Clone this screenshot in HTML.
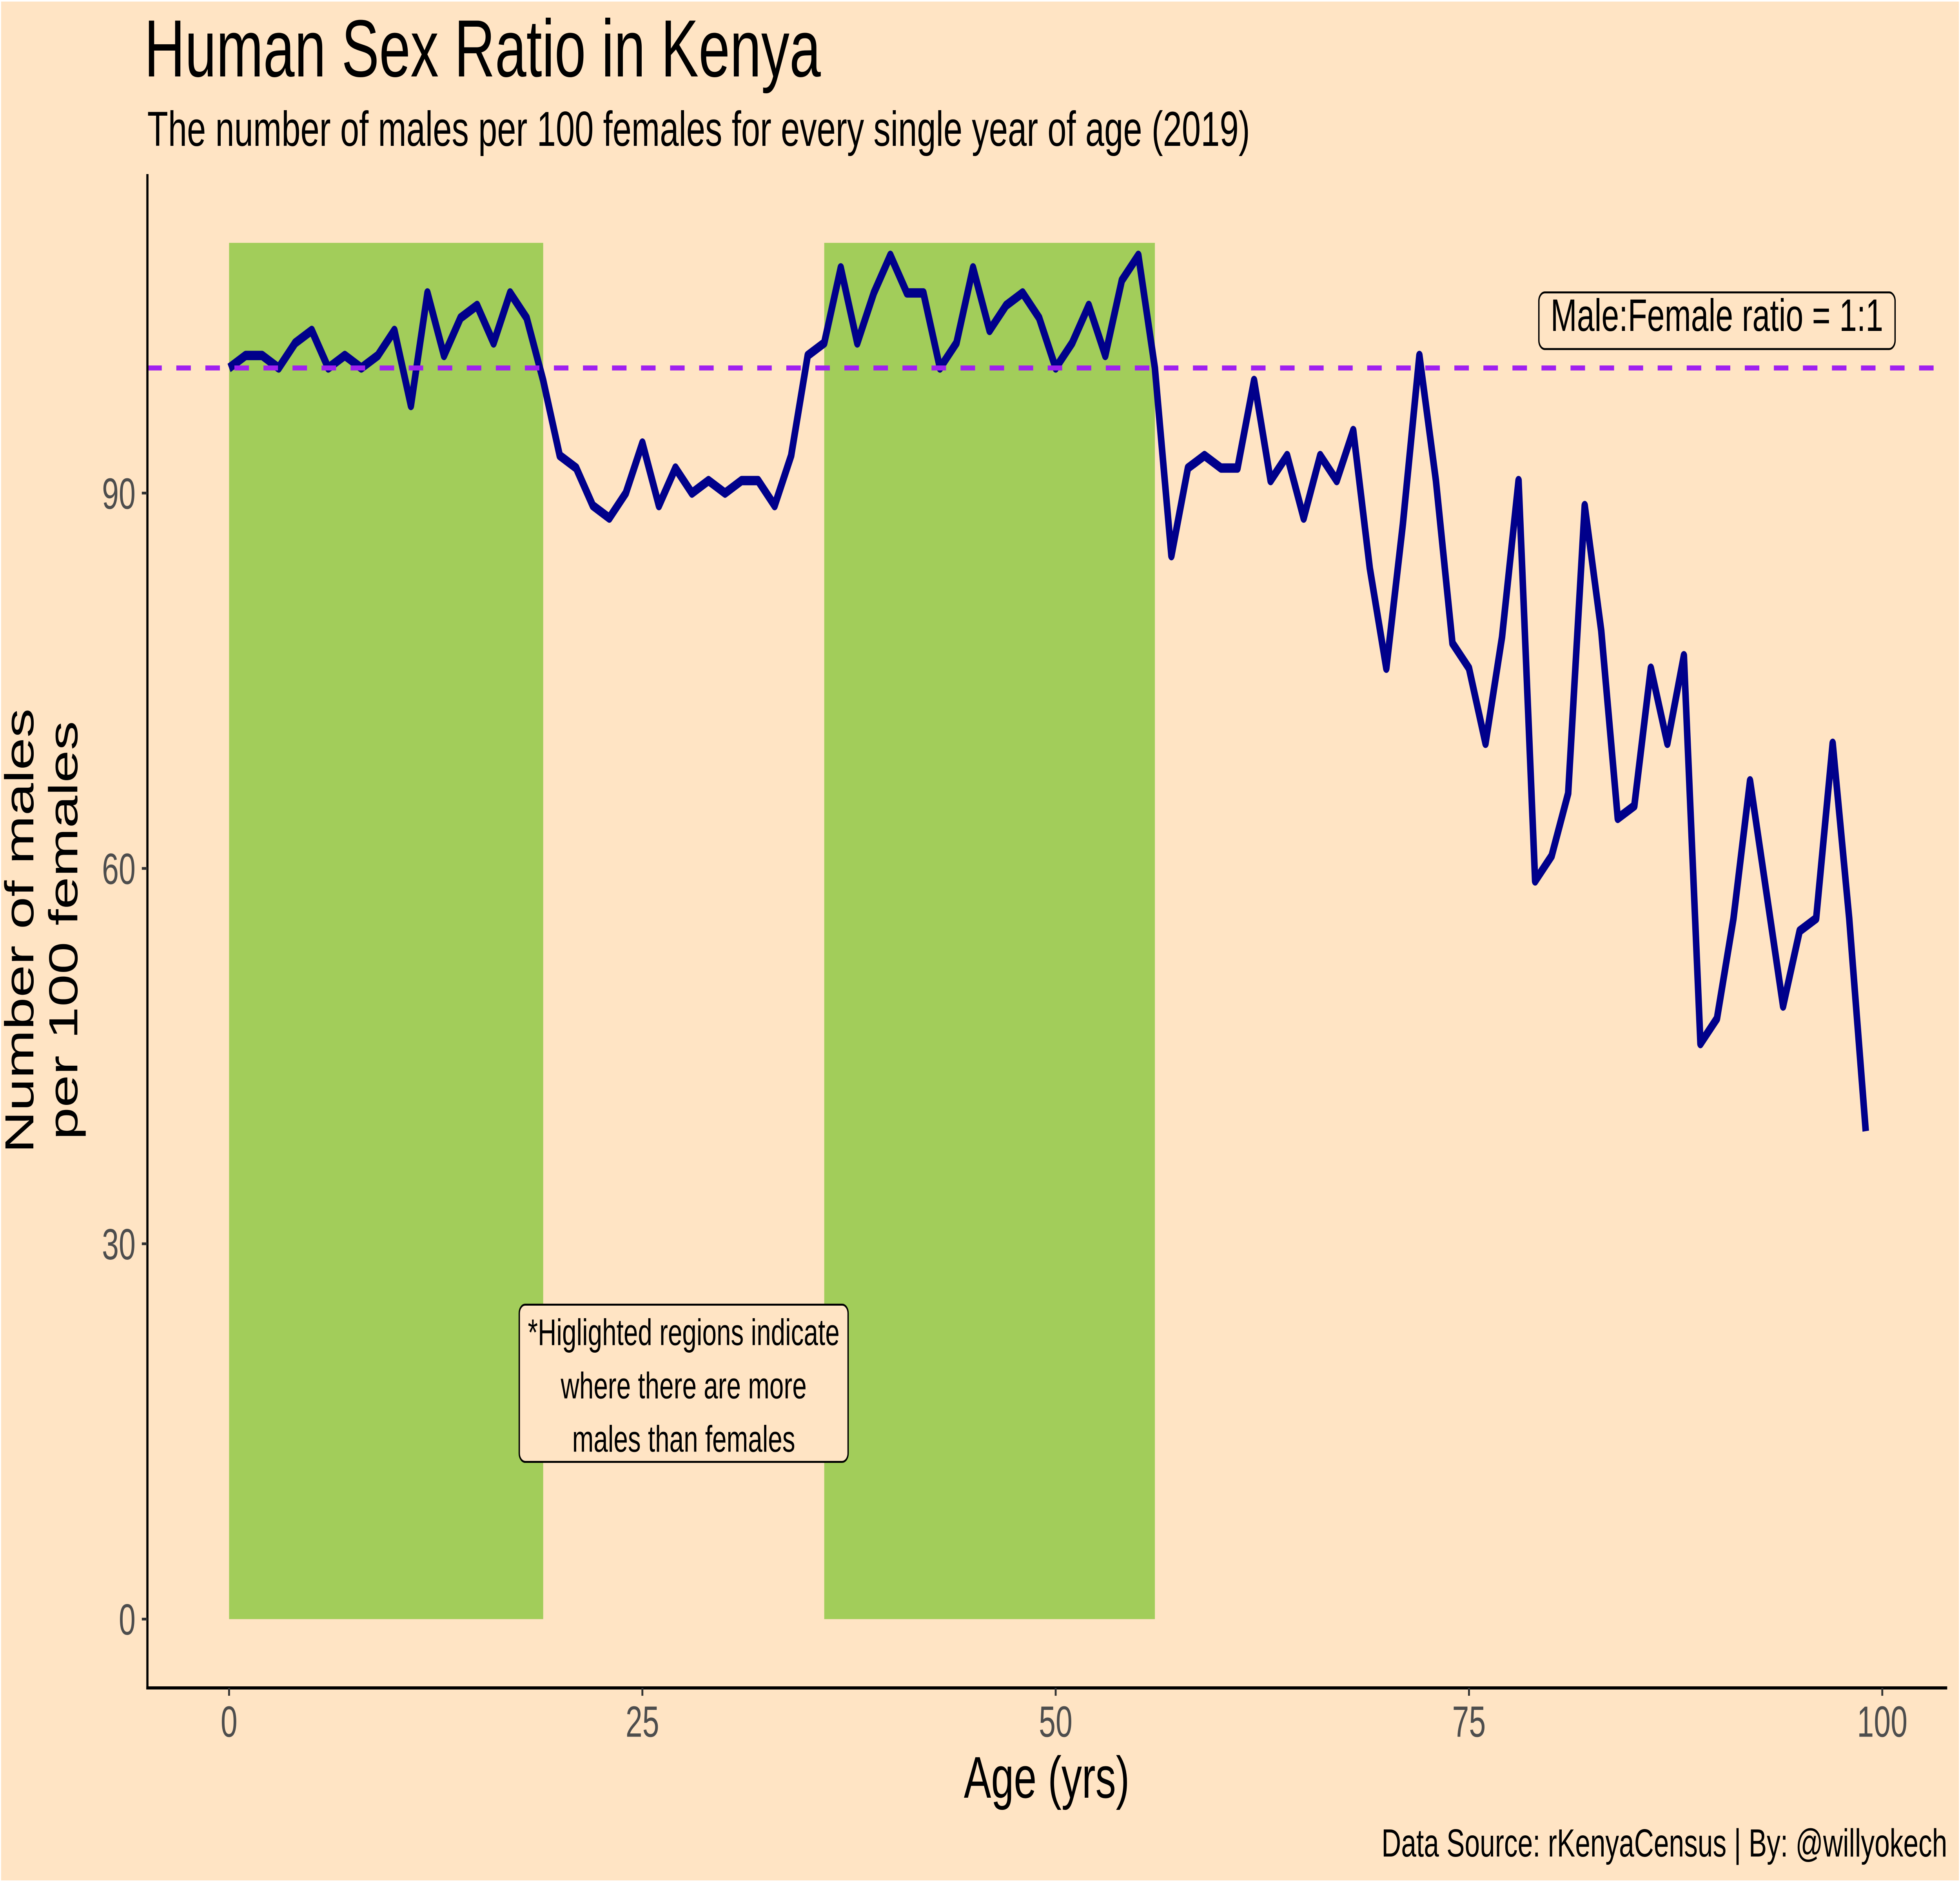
<!DOCTYPE html>
<html>
<head>
<meta charset="utf-8">
<style>
  html, body { margin: 0; padding: 0; background: #FFE4C4; width: 100%; height: 100%; overflow: hidden; }
  svg { display: block; position: absolute; left: 0; top: 0; width: 100vw; height: 100vh; }
  text { font-family: "Liberation Sans", Arial, sans-serif; }
</style>
</head>
<body>
<svg xmlns="http://www.w3.org/2000/svg" viewBox="0 0 7200 4800" preserveAspectRatio="none">
  <!-- background with thin white border -->
  <rect x="0" y="0" width="7200" height="4800" fill="#FFE4C4" stroke="#FFFFFF" stroke-width="8"/>

  <!-- highlighted regions -->
  <rect x="841.5" y="619.4" width="1153.9" height="3510.1" fill="#A2CD5A"/>
  <rect x="3027.8" y="619.4" width="1214.6" height="3510.1" fill="#A2CD5A"/>

  <!-- data line -->
  <polyline fill="none" stroke="#00008B" stroke-width="24" stroke-linejoin="round" stroke-linecap="butt"
    points="841.5,938.5 902.2,906.6 963.0,906.6 1023.7,938.5 1084.4,874.7 1145.2,842.8 1205.9,938.5 1266.6,906.6 1327.3,938.5 1388.1,906.6 1448.8,842.8 1509.5,1034.2 1570.3,747.1 1631.0,906.6 1691.7,810.9 1752.5,779.0 1813.2,874.7 1873.9,747.1 1934.6,810.9 1995.4,970.4 2056.1,1161.9 2116.8,1193.8 2177.6,1289.5 2238.3,1321.4 2299.0,1257.6 2359.8,1130.0 2420.5,1289.5 2481.2,1193.8 2541.9,1257.6 2602.7,1225.7 2663.4,1257.6 2724.1,1225.7 2784.9,1225.7 2845.6,1289.5 2906.3,1161.9 2967.1,906.6 3027.8,874.7 3088.5,683.2 3149.2,874.7 3210.0,747.1 3270.7,651.3 3331.4,747.1 3392.2,747.1 3452.9,938.5 3513.6,874.7 3574.4,683.2 3635.1,842.8 3695.8,779.0 3756.5,747.1 3817.3,810.9 3878.0,938.5 3938.7,874.7 3999.5,779.0 4060.2,906.6 4120.9,715.2 4181.7,651.3 4242.4,938.5 4303.1,1417.2 4363.8,1193.8 4424.6,1161.9 4485.3,1193.8 4546.0,1193.8 4606.8,970.4 4667.5,1225.7 4728.2,1161.9 4789.0,1321.4 4849.7,1161.9 4910.4,1225.7 4971.1,1098.1 5031.9,1449.1 5092.6,1704.3 5153.3,1337.4 5214.1,906.6 5274.8,1225.7 5335.5,1640.5 5396.3,1704.3 5457.0,1895.8 5517.7,1624.6 5578.4,1225.7 5639.2,2246.8 5699.9,2183.0 5760.6,2023.4 5821.4,1289.5 5882.1,1608.6 5942.8,2087.3 6003.6,2055.4 6064.3,1704.3 6125.0,1895.8 6185.7,1672.4 6246.5,2661.6 6307.2,2597.8 6367.9,2342.5 6428.7,1991.5 6489.4,2278.7 6550.1,2565.9 6610.9,2374.4 6671.6,2342.5 6732.3,1895.8 6793.0,2342.5 6853.8,2885.0"/>

  <!-- 1:1 reference line -->
  <line x1="541" y1="938.5" x2="7153" y2="938.5" stroke="#A020F0" stroke-width="12.7" stroke-dasharray="53.35 53.35"/>

  <!-- annotation labels -->
  <rect x="1907.5" y="3327.5" width="1208" height="401" rx="22" ry="22" fill="#FFE4C4" stroke="#000000" stroke-width="5"/>
  <text x="2511.5" y="3430.6" font-size="94.5" text-anchor="middle" fill="#000000">*Higlighted regions indicate</text>
  <text x="2511.5" y="3566.7" font-size="94.5" text-anchor="middle" fill="#000000">where there are more</text>
  <text x="2511.5" y="3702.5" font-size="94.5" text-anchor="middle" fill="#000000">males than females</text>

  <rect x="5653" y="745.8" width="1308.5" height="144.4" rx="22" ry="22" fill="#FFE4C4" stroke="#000000" stroke-width="5"/>
  <text x="6307" y="844" font-size="116" text-anchor="middle" fill="#000000">Male:Female ratio = 1:1</text>

  <!-- axes -->
  <line x1="541.5" y1="444" x2="541.5" y2="4309" stroke="#000000" stroke-width="8"/>
  <line x1="537.5" y1="4305" x2="7153" y2="4305" stroke="#000000" stroke-width="8"/>

  <!-- y ticks -->
  <g stroke="#333333" stroke-width="7">
    <line x1="521" y1="4129.5" x2="541" y2="4129.5"/>
    <line x1="521" y1="3172.2" x2="541" y2="3172.2"/>
    <line x1="521" y1="2214.9" x2="541" y2="2214.9"/>
    <line x1="521" y1="1257.6" x2="541" y2="1257.6"/>
  </g>
  <!-- x ticks -->
  <g stroke="#333333" stroke-width="7">
    <line x1="841.5" y1="4305" x2="841.5" y2="4325"/>
    <line x1="2359.8" y1="4305" x2="2359.8" y2="4325"/>
    <line x1="3878" y1="4305" x2="3878" y2="4325"/>
    <line x1="5396.3" y1="4305" x2="5396.3" y2="4325"/>
    <line x1="6914.5" y1="4305" x2="6914.5" y2="4325"/>
  </g>

  <!-- y tick labels -->
  <g font-size="111" fill="#4D4D4D" text-anchor="end">
    <text x="498" y="4169.2">0</text>
    <text x="498" y="3211.9">30</text>
    <text x="498" y="2254.6">60</text>
    <text x="498" y="1297.3">90</text>
  </g>
  <!-- x tick labels -->
  <g font-size="111" fill="#4D4D4D" text-anchor="middle">
    <text x="841.5" y="4429.5">0</text>
    <text x="2359.8" y="4429.5">25</text>
    <text x="3878" y="4429.5">50</text>
    <text x="5396.3" y="4429.5">75</text>
    <text x="6914.5" y="4429.5">100</text>
  </g>

  <!-- axis titles -->
  <text x="3845" y="4585" font-size="150" text-anchor="middle" fill="#000000">Age (yrs)</text>
  <text transform="translate(122.5,2374) rotate(-90)" x="0" y="0" font-size="149" text-anchor="middle" fill="#000000">Number of males</text>
  <text transform="translate(284,2373) rotate(-90)" x="0" y="0" font-size="149" text-anchor="middle" fill="#000000">per 100 females</text>

  <!-- titles -->
  <text x="530" y="195" font-size="207" fill="#000000">Human Sex Ratio in Kenya</text>
  <text x="541" y="372" font-size="125" fill="#000000">The number of males per 100 females for every single year of age (2019)</text>

  <!-- caption -->
  <text x="7153" y="4735" font-size="100" text-anchor="end" fill="#000000">Data Source: rKenyaCensus | By: @willyokech</text>
</svg>
</body>
</html>
